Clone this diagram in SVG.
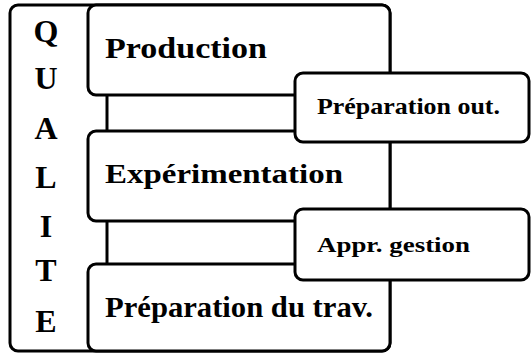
<svg xmlns="http://www.w3.org/2000/svg" width="531" height="354" viewBox="0 0 531 354">
<style>
.box{fill:#fff;stroke:#000;stroke-width:3}
.ln{stroke:#000;stroke-width:3;fill:none}
text{font-family:"Liberation Serif","Times New Roman",serif;font-weight:bold;fill:#000}
.q{font-size:32px;text-anchor:middle}
</style>
<rect width="531" height="354" fill="#fff"/>
<g id="qualite">
<rect class="box" x="10" y="5" width="380" height="346" rx="8"/>
<text class="q" x="46" y="42">Q</text>
<text class="q" x="46" y="89">U</text>
<text class="q" x="46" y="139">A</text>
<text class="q" x="46" y="188">L</text>
<text class="q" x="46" y="237">I</text>
<text class="q" x="46" y="281">T</text>
<text class="q" x="46" y="332">E</text>
</g>
<g id="connectors">
<line class="ln" x1="107" y1="94" x2="107" y2="132"/>
<line class="ln" x1="107" y1="220" x2="107" y2="265"/>
</g>
<g id="production">
<rect class="box" x="88" y="5" width="302" height="90" rx="8"/>
<text x="105" y="58" font-size="29" textLength="162" lengthAdjust="spacingAndGlyphs">Production</text>
</g>
<g id="experimentation">
<rect class="box" x="88" y="131" width="302" height="90" rx="8"/>
<text x="105" y="183" font-size="27" textLength="238" lengthAdjust="spacingAndGlyphs">Expérimentation</text>
</g>
<g id="preparation-trav">
<rect class="box" x="88" y="264" width="302" height="87" rx="8"/>
<text x="105" y="317" font-size="29" textLength="268" lengthAdjust="spacingAndGlyphs">Préparation du trav.</text>
</g>
<g id="preparation-out">
<rect class="box" x="295" y="73" width="234" height="69" rx="8"/>
<text x="317" y="114" font-size="23" textLength="183" lengthAdjust="spacingAndGlyphs">Préparation out.</text>
</g>
<g id="appr-gestion">
<rect class="box" x="295" y="209" width="234" height="71" rx="8"/>
<text x="317" y="252" font-size="22" textLength="153" lengthAdjust="spacingAndGlyphs">Appr. gestion</text>
</g>
</svg>
